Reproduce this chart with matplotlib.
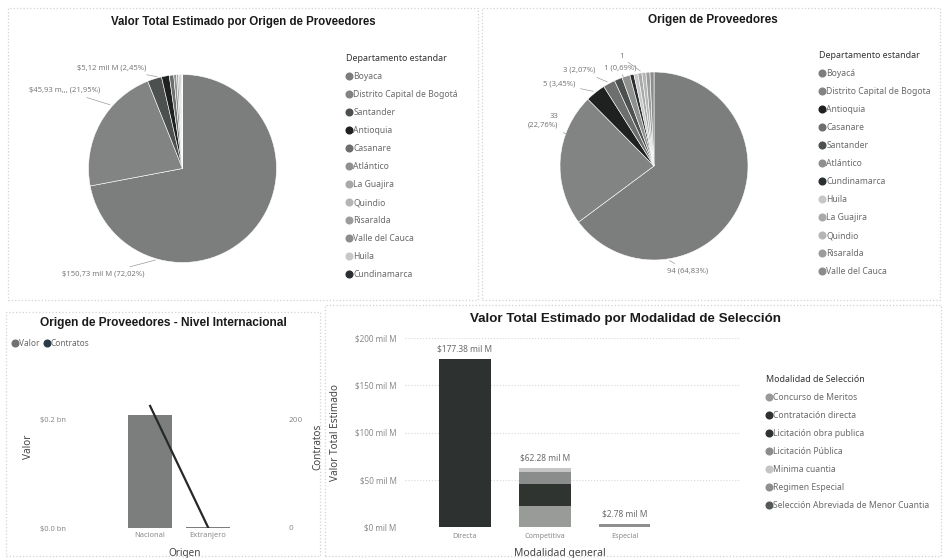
import numpy as np
import matplotlib.pyplot as plt
from matplotlib.lines import Line2D
from matplotlib.patches import Rectangle
from matplotlib.ticker import FuncFormatter

W, H = 943, 558

departamentos_valor = ["Boyaca", "Distrito Capital de Bogotá", "Santander", "Antioquia",
                       "Casanare", "Atlántico", "La Guajira", "Quindio", "Risaralda",
                       "Valle del Cauca", "Huila", "Cundinamarca"]
valor_mil_m = [150.73, 45.934, 5.12, 2.786, 1.60, 1.00, 0.70, 0.50, 0.40, 0.30, 0.15, 0.07]

departamentos_cont = ["Boyacá", "Distrito Capital de Bogota", "Antioquia", "Casanare",
                      "Santander", "Atlántico", "Cundinamarca", "Huila", "La Guajira",
                      "Quindio", "Risaralda", "Valle del Cauca"]
contratos = [94, 33, 5, 3, 2, 2, 1, 1, 1, 1, 1, 1]

origen = ["Nacional", "Extranjero"]
origen_valor_bn = [0.209, 0.0012]
origen_contratos = [226, 1]

modalidad_general = ["Directa", "Competitiva", "Especial"]
modalidades = ["Concurso de Meritos", "Contratación directa", "Licitación obra publica",
               "Licitación Pública", "Minima cuantia", "Regimen Especial",
               "Selección Abreviada de Menor Cuantia"]
modalidad_valores = {
    "Concurso de Meritos":                  [0, 22.60, 0],
    "Contratación directa":                 [177.38, 0, 0],
    "Licitación obra publica":              [0, 23.40, 0],
    "Licitación Pública":                   [0, 12.40, 0],
    "Minima cuantia":                       [0, 3.58, 0],
    "Regimen Especial":                     [0, 0, 2.78],
    "Selección Abreviada de Menor Cuantia": [0, 0.30, 0],
}

# ---- colores (captura en escala de grises) ----
dept_color = {
    "boyac": "#7b7e7c", "distr": "#818482", "santa": "#4c504f",
    "antio": "#1e2120", "casan": "#6c6f6d", "atlan": "#8f918f",
    "la gu": "#a8aaa8", "quind": "#b4b5b4", "risar": "#9b9d9b",
    "valle": "#8b8d8b", "huila": "#c6c7c6", "cundi": "#2a2e31",
}
mod_color = ["#999b99", "#2d3230", "#2f3431", "#8a8d8b", "#c4c5c4", "#8e908e", "#55595a"]

TITLE_FONT = dict(family="Liberation Sans", fontweight="bold", color="#1a1a1a")
SMALL = "Noto Sans"


def key(name):
    return name.lower().replace("á", "a").replace("í", "i")[:5]


def box(x0, y0, x1, y1):
    return [x0 / W, 1 - y1 / H, (x1 - x0) / W, (y1 - y0) / H]


def legend_handles(colors):
    return [Line2D([], [], marker="o", ls="", color=c, markersize=4.8) for c in colors]


def style_legend(leg):
    t = leg.get_title()
    t.set_fontsize(6.4)
    t.set_family(SMALL)
    t.set_color("#333333")
    t.set_fontweight("bold")
    for txt in leg.get_texts():
        txt.set_color("#6a6a6a")


fig = plt.figure(figsize=(W / 100, H / 100), dpi=100, facecolor="white")

# bordes de los paneles
for x0, y0, x1, y1 in [(8, 8, 478, 300), (482, 8, 940, 300), (6, 312, 320, 556), (325, 305, 941, 556)]:
    fig.add_artist(Rectangle((x0 / W, 1 - y1 / H), (x1 - x0) / W, (y1 - y0) / H,
                             transform=fig.transFigure, fill=False, ec="#d2d2d2", lw=0.9, ls=":"))


def draw_pie(cx, cy, r, values, names, labels, leg_x, leg_y):
    k = 1.45
    ax = fig.add_axes(box(cx - k * r, cy - k * r, cx + k * r, cy + k * r))
    cols = [dept_color[key(n)] for n in names]
    ax.pie(values, colors=cols, startangle=90, counterclock=False, radius=1,
           wedgeprops=dict(edgecolor="white", linewidth=0.4))
    ax.set_xlim(-k, k)
    ax.set_ylim(-k, k)
    ax.set_aspect("equal")
    ax.axis("off")
    for txt, ang, (tx, ty), ha in labels:
        a = np.deg2rad(ang)
        ax.annotate(txt, xy=(np.cos(a), np.sin(a)), xytext=(tx, ty), ha=ha, va="center",
                    fontsize=5.5, color="#7a7a7a", family=SMALL,
                    arrowprops=dict(arrowstyle="-", color="#9a9a9a", lw=0.5))
    leg = fig.legend(legend_handles(cols), names, loc="upper left",
                     bbox_to_anchor=(leg_x / W, 1 - leg_y / H), frameon=False,
                     title="Departamento estandar", alignment="left",
                     handlelength=0.6, handletextpad=0.25, labelspacing=1.05,
                     borderaxespad=0, borderpad=0,
                     prop=dict(family=SMALL, size=6.2))
    style_legend(leg)


def pct(v, tot):
    return f"{100 * v / tot:.2f}%".replace(".", ",")


tot1 = sum(valor_mil_m)
lab1 = [
    (f"${valor_mil_m[0]:.2f} mil M ({pct(valor_mil_m[0], tot1)})".replace(".", ","), 255, (-0.40, -1.12), "right"),
    (f"${valor_mil_m[1]:.2f} m... ({pct(valor_mil_m[1], tot1)})".replace(".", ","), 138, (-0.88, 0.83), "right"),
    (f"${valor_mil_m[2]:.2f} mil M ({pct(valor_mil_m[2], tot1)})".replace(".", ","), 104, (-0.38, 1.07), "right"),
]
draw_pie(182.5, 168.5, 94, valor_mil_m, departamentos_valor, lab1, 346, 54)

tot2 = sum(contratos)
lab2 = [
    (f"{contratos[0]} ({pct(contratos[0], tot2)})", 278, (0.14, -1.12), "left"),
    (f"{contratos[1]}\n({pct(contratos[1], tot2)})", 160, (-1.02, 0.48), "right"),
    (f"{contratos[2]} ({pct(contratos[2], tot2)})", 128, (-0.84, 0.87), "right"),
    (f"{contratos[3]} ({pct(contratos[3], tot2)})", 118, (-0.62, 1.02), "right"),
    (f"1 ({pct(1, tot2)})", 109, (-0.36, 1.04), "center"),
    ("1", 97, (-0.35, 1.16), "center"),
]
draw_pie(654, 166, 94, contratos, departamentos_cont, lab2, 819, 51)

fig.text(243 / W, 1 - 22 / H, "Valor Total Estimado por Origen de Proveedores",
         ha="center", va="center", fontsize=8.3, **TITLE_FONT)
fig.text(713 / W, 1 - 20 / H, "Origen de Proveedores", ha="center", va="center", fontsize=8.5, **TITLE_FONT)

# ---- Origen de Proveedores - Nivel Internacional ----
ax3 = fig.add_axes(box(70, 380, 283, 528))
x = np.arange(len(origen))
ax3.bar(x, origen_valor_bn, width=0.76, color="#7b7e7c", zorder=2)
ax3.set_xlim(-1.38, 2.29)
ax3.set_ylim(0, 0.274)
ax3.set_yticks([0, 0.2])
ax3.yaxis.set_major_formatter(FuncFormatter(lambda v, p: f"${v:.1f} bn"))
ax3.set_xticks(x)
ax3.set_xticklabels(origen)
ax3.tick_params(length=0, labelsize=5.4, labelcolor="#8a8a8a", pad=3)
for lbl in ax3.get_xticklabels() + ax3.get_yticklabels():
    lbl.set_family(SMALL)
for s in ax3.spines.values():
    s.set_visible(False)
ax3.set_ylabel("Valor", family=SMALL, fontsize=7.2, color="#444444")
ax3.yaxis.set_label_coords(-0.17, 0.55)
ax3.set_xlabel("Origen", family=SMALL, fontsize=7.2, color="#444444")
ax3.xaxis.set_label_coords((185 - 70) / 213, -0.135)
ax3.plot([0.6, 1.4], [0.0006, 0.0006], color="#9a9a9a", lw=0.8, ls=":")

ax3b = ax3.twinx()
ax3b.plot(x, origen_contratos, color="#26292c", lw=1.6, zorder=3)
ax3b.set_ylim(0, 274)
ax3b.set_yticks([0, 200])
ax3b.tick_params(length=0, labelsize=5.4, labelcolor="#8a8a8a", pad=4)
for s in ax3b.spines.values():
    s.set_visible(False)
ax3b.set_ylabel("Contratos", family=SMALL, fontsize=7.2, color="#444444")
ax3b.yaxis.set_label_coords(1.14, 0.55)

fig.text(163 / W, 1 - 323 / H, "Origen de Proveedores - Nivel Internacional",
         ha="center", va="center", fontsize=8.6, **TITLE_FONT)
leg3 = fig.legend(legend_handles(["#6f7270", "#2b3a4a"]), ["Valor", "Contratos"], loc="upper left",
                  bbox_to_anchor=(12 / W, 1 - 339 / H), ncol=2, frameon=False,
                  handlelength=0.6, handletextpad=0.2, columnspacing=0.6,
                  borderaxespad=0, borderpad=0, prop=dict(family=SMALL, size=6))
for t in leg3.get_texts():
    t.set_color("#6a6a6a")

# ---- Valor Total Estimado por Modalidad de Seleccion ----
ax4 = fig.add_axes(box(405, 338, 740, 527))
xm = np.arange(len(modalidad_general))
bottom = np.zeros(len(modalidad_general))
for name, c in zip(modalidades, mod_color):
    vals = np.array(modalidad_valores[name])
    ax4.bar(xm, vals, bottom=bottom, width=0.64, color=c, zorder=2)
    bottom += vals
for xi, tot in zip(xm, bottom):
    ax4.annotate(f"${tot:.2f} mil M", (xi, tot), xytext=(0, 4), textcoords="offset points",
                 ha="center", va="bottom", fontsize=6, color="#6a6a6a", family=SMALL)
ax4.set_xlim(-0.75, 3.44)
ax4.set_ylim(0, 200)
ax4.set_yticks(np.arange(0, 201, 50))
ax4.yaxis.set_major_formatter(FuncFormatter(lambda v, p: f"${v:.0f} mil M"))
ax4.set_xticks(xm)
ax4.set_xticklabels(modalidad_general)
ax4.tick_params(length=0, labelsize=5.8, labelcolor="#8a8a8a")
ax4.tick_params(axis="y", pad=6)
ax4.tick_params(axis="x", pad=4, labelsize=5.2)
for lbl in ax4.get_xticklabels() + ax4.get_yticklabels():
    lbl.set_family(SMALL)
ax4.grid(axis="y", color="#d8d8d8", ls=":", lw=0.8, zorder=0)
for s in ax4.spines.values():
    s.set_visible(False)
ax4.set_ylabel("Valor Total Estimado", family=SMALL, fontsize=7.2, color="#444444")
ax4.yaxis.set_label_coords(-0.19, 0.5)
ax4.set_xlabel("Modalidad general", family=SMALL, fontsize=7.4, color="#444444")
ax4.xaxis.set_label_coords((560 - 405) / 335, -0.11)

fig.text(625 / W, 1 - 319 / H, "Valor Total Estimado por Modalidad de Selección",
         ha="center", va="center", fontsize=9.6, **TITLE_FONT)
leg4 = fig.legend(legend_handles(mod_color), modalidades, loc="upper left",
                  bbox_to_anchor=(766 / W, 1 - 375 / H), frameon=False,
                  title="Modalidad de Selección", alignment="left",
                  handlelength=0.6, handletextpad=0.25, labelspacing=1.05,
                  borderaxespad=0, borderpad=0, prop=dict(family=SMALL, size=6.2))
style_legend(leg4)

fig.savefig("out.png", dpi=100, facecolor="white")
